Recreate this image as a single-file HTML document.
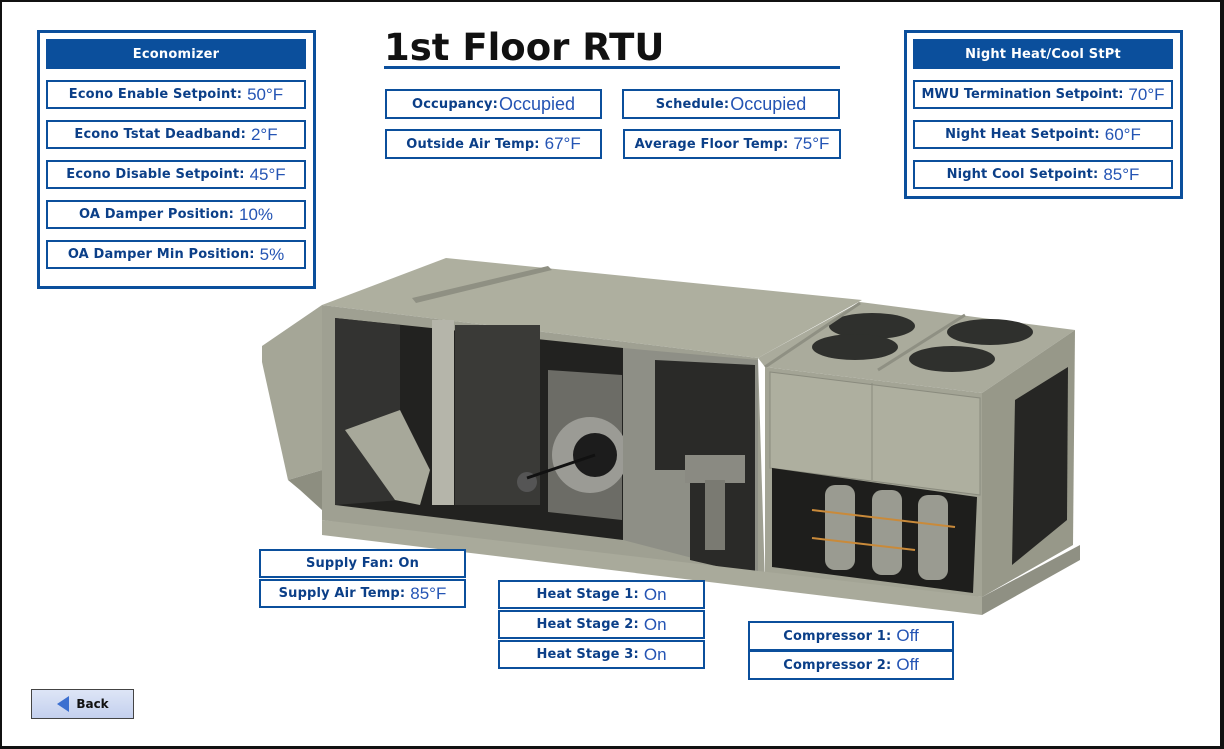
<!DOCTYPE html>
<html><head><meta charset="utf-8"><style>
*{margin:0;padding:0;box-sizing:border-box}
html,body{width:1224px;height:749px;overflow:hidden;background:#fff;font-family:"DejaVu Sans","Liberation Sans",sans-serif}
#pg{position:absolute;left:0;top:0;width:1224px;height:749px;border-left:2px solid #111;border-top:2px solid #111;border-right:4px solid #111;border-bottom:3px solid #111}
.b{position:absolute;border:2px solid #0b4f9c;background:#fff;display:flex;align-items:center;justify-content:center;white-space:nowrap}
.l{font-weight:bold;font-size:13px;letter-spacing:0.15px;color:#0b3f88;font-family:"DejaVu Sans",sans-serif}
.v{font-size:17px;color:#2454b4;font-family:"Liberation Sans",sans-serif;margin-left:5px}
.outer{position:absolute;border:3px solid #0b4f9c}
.hdr{position:absolute;background:#0b4f9c;color:#fff;font-weight:bold;font-size:13px;letter-spacing:0.2px;display:flex;align-items:center;justify-content:center;font-family:"DejaVu Sans",sans-serif}
</style></head><body><div id="pg"></div>
<svg style="position:absolute;left:0;top:0" width="1224" height="749">
<polygon points="262,346 322,305 322,470 288,480 262,362" fill="#a5a697"/>
<polygon points="288,480 322,470 322,510 300,490" fill="#8d8e80"/>
<polygon points="322,305 446,258 862,300 758,358" fill="#aeaf9f"/>
<polygon points="412,298 548,266 552,270 416,303" fill="#8f9083"/>
<polygon points="322,305 758,358 765,585 322,520" fill="#9fa092"/>
<polygon points="335,318 623,348 623,540 335,505" fill="#222220"/>
<polygon points="335,318 400,325 400,500 335,505" fill="#333331"/>
<polygon points="345,430 400,410 430,470 420,505 395,500" fill="#a7a89a"/>
<rect x="432" y="320" width="22" height="185" fill="#b5b5aa"/>
<rect x="455" y="325" width="85" height="180" fill="#3a3a37"/>
<polygon points="548,370 622,375 622,520 548,512" fill="#6c6c66"/>
<circle cx="590" cy="455" r="38" fill="#9b9b95"/>
<circle cx="595" cy="455" r="22" fill="#1c1c1c"/>
<circle cx="527" cy="482" r="10" fill="#555"/>
<line x1="527" y1="478" x2="595" y2="455" stroke="#111" stroke-width="3"/>
<polygon points="623,348 758,360 758,575 623,540" fill="#8e8f86"/>
<polygon points="655,360 755,365 755,575 690,560 690,470 655,470" fill="#2a2a28"/>
<rect x="685" y="455" width="60" height="28" fill="#8a8a82"/>
<rect x="705" y="480" width="20" height="70" fill="#7a7a72"/>
<polygon points="758,358 860,302 1075,330 982,393 765,367" fill="#aaab9c"/>
<ellipse cx="872" cy="326" rx="43" ry="13" fill="#2f302d"/>
<ellipse cx="855" cy="347" rx="43" ry="13" fill="#2f302d"/>
<ellipse cx="990" cy="332" rx="43" ry="13" fill="#2f302d"/>
<ellipse cx="952" cy="359" rx="43" ry="13" fill="#2f302d"/>
<line x1="765" y1="367" x2="860" y2="303" stroke="#8f9083" stroke-width="3"/>
<line x1="878" y1="370" x2="965" y2="315" stroke="#8f9083" stroke-width="3"/>
<polygon points="765,367 982,393 982,597 765,580" fill="#a3a495"/>
<polygon points="770,372 980,398 980,495 770,468" fill="#aeaf9f" stroke="#8a8b7e"/>
<line x1="872" y1="383" x2="872" y2="480" stroke="#8a8b7e"/>
<polygon points="772,468 977,497 973,593 772,567" fill="#1e1e1c"/>
<rect x="825" y="485" width="30" height="85" rx="10" fill="#9a9b91"/>
<rect x="872" y="490" width="30" height="85" rx="10" fill="#9a9b91"/>
<rect x="918" y="495" width="30" height="85" rx="10" fill="#9a9b91"/>
<line x1="812" y1="510" x2="955" y2="527" stroke="#c98a3a" stroke-width="2"/>
<line x1="812" y1="538" x2="915" y2="550" stroke="#c98a3a" stroke-width="2"/>
<polygon points="982,393 1075,330 1073,545 982,597" fill="#979889"/>
<polygon points="1015,400 1068,367 1067,520 1012,565" fill="#262624"/>
<polygon points="322,520 982,597 982,615 322,535" fill="#a9aa9b"/>
<polygon points="982,597 1080,545 1080,560 982,615" fill="#8f9083"/>
</svg>
<div class="outer" style="left:37px;top:30px;width:279px;height:259px"></div>
<div class="hdr" style="left:46px;top:39px;width:260px;height:30px">Economizer</div>
<div class="b" style="left:46px;top:80px;width:260px;height:29px"><span class="l">Econo Enable Setpoint:</span><span class="v">50°F</span></div>
<div class="b" style="left:46px;top:120px;width:260px;height:29px"><span class="l">Econo Tstat Deadband:</span><span class="v">2°F</span></div>
<div class="b" style="left:46px;top:160px;width:260px;height:29px"><span class="l">Econo Disable Setpoint:</span><span class="v">45°F</span></div>
<div class="b" style="left:46px;top:200px;width:260px;height:29px"><span class="l">OA Damper Position:</span><span class="v">10%</span></div>
<div class="b" style="left:46px;top:240px;width:260px;height:29px"><span class="l">OA Damper Min Position:</span><span class="v">5%</span></div>

<div style="position:absolute;left:384px;top:27px;font-family:'DejaVu Sans',sans-serif;font-weight:bold;font-size:37px;color:#111;line-height:42px">1st Floor RTU</div>
<div style="position:absolute;left:384px;top:66px;width:456px;height:3px;background:#0b4f9c"></div>
<div class="b" style="left:385px;top:89px;width:217px;height:30px"><span class="l">Occupancy:</span><span class="v" style="margin-left:1px;font-size:18px">Occupied</span></div>
<div class="b" style="left:622px;top:89px;width:218px;height:30px"><span class="l">Schedule:</span><span class="v" style="margin-left:1px;font-size:18px">Occupied</span></div>
<div class="b" style="left:385px;top:129px;width:217px;height:30px"><span class="l">Outside Air Temp:</span><span class="v">67°F</span></div>
<div class="b" style="left:623px;top:129px;width:218px;height:30px"><span class="l">Average Floor Temp:</span><span class="v">75°F</span></div>

<div class="outer" style="left:904px;top:30px;width:279px;height:169px"></div>
<div class="hdr" style="left:913px;top:39px;width:260px;height:30px">Night Heat/Cool StPt</div>
<div class="b" style="left:913px;top:80px;width:260px;height:29px"><span class="l" style="letter-spacing:0">MWU Termination Setpoint:</span><span class="v">70°F</span></div>
<div class="b" style="left:913px;top:120px;width:260px;height:29px"><span class="l">Night Heat Setpoint:</span><span class="v">60°F</span></div>
<div class="b" style="left:913px;top:160px;width:260px;height:29px"><span class="l">Night Cool Setpoint:</span><span class="v">85°F</span></div>

<div class="b" style="left:259px;top:549px;width:207px;height:29px"><span class="l">Supply Fan: On</span></div>
<div class="b" style="left:259px;top:579px;width:207px;height:29px"><span class="l">Supply Air Temp:</span><span class="v">85°F</span></div>

<div class="b" style="left:498px;top:580px;width:207px;height:29px"><span class="l">Heat Stage 1:</span><span class="v">On</span></div>
<div class="b" style="left:498px;top:610px;width:207px;height:29px"><span class="l">Heat Stage 2:</span><span class="v">On</span></div>
<div class="b" style="left:498px;top:640px;width:207px;height:29px"><span class="l">Heat Stage 3:</span><span class="v">On</span></div>

<div class="b" style="left:748px;top:621px;width:206px;height:30px"><span class="l">Compressor 1:</span><span class="v">Off</span></div>
<div class="b" style="left:748px;top:650px;width:206px;height:30px"><span class="l">Compressor 2:</span><span class="v">Off</span></div>

<div style="position:absolute;left:31px;top:689px;width:103px;height:30px;border:1px solid #444;background:linear-gradient(#dde5f6,#c4d0ee);display:flex;align-items:center;justify-content:center;font-weight:bold;font-size:12px;color:#111;font-family:'DejaVu Sans',sans-serif">
<svg width="14" height="16" style="margin-right:6px"><polygon points="13,0 13,16 1,8" fill="#3b6fd0"/></svg>Back</div>
</body></html>
